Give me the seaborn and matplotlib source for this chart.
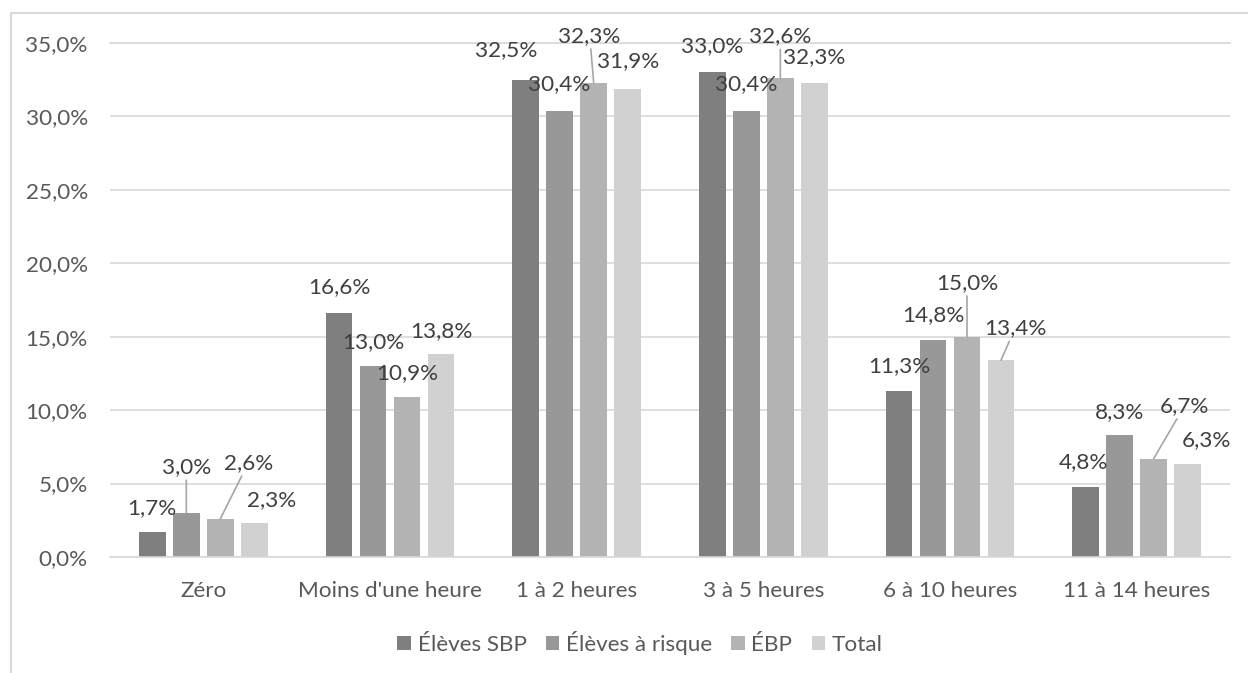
import matplotlib
matplotlib.use("Agg")
import matplotlib.pyplot as plt
from matplotlib.lines import Line2D
from matplotlib.patches import Rectangle
from matplotlib.ticker import FuncFormatter, MultipleLocator
import pandas as pd
import seaborn as sns

# --- data -------------------------------------------------------------
categories = ["Zéro", "Moins d'une heure", "1 à 2 heures", "3 à 5 heures",
              "6 à 10 heures", "11 à 14 heures"]
series = ["Élèves SBP", "Élèves à risque", "ÉBP", "Total"]
eleves_sbp = [1.7, 16.6, 32.5, 33.0, 11.3, 4.8]
eleves_risque = [3.0, 13.0, 30.4, 30.4, 14.8, 8.3]
ebp = [2.6, 10.9, 32.3, 32.6, 15.0, 6.7]
total = [2.3, 13.8, 31.9, 32.3, 13.4, 6.3]

# --- styling ----------------------------------------------------------
colors = ["#7F7F7F", "#989898", "#B3B3B3", "#D1D1D1"]
grid_color = "#D9D9D9"
text_color = "#595959"
label_color = "#404040"
leader_color = "#A6A6A6"
font_size = 16.2

# label placement in pixels relative to the top centre of each bar
# (series index, category index) -> (dx, dy); others use the default
default_offset = (0, 24)
label_offsets = {
    (1, 0): (0, 46), (2, 0): (28, 56), (3, 0): (17, 23),
    (0, 1): (0, 26), (3, 1): (0, 23),
    (0, 2): (-19, 30), (1, 2): (0, 26), (2, 2): (-4, 47), (3, 2): (0, 27),
    (0, 3): (0, 26), (1, 3): (0, 26), (2, 3): (0, 42), (3, 3): (0, 26),
    (0, 4): (0, 25), (1, 4): (0, 25), (2, 4): (0, 54), (3, 4): (14, 32),
    (0, 5): (-2, 24), (1, 5): (0, 23), (2, 5): (31, 53), (3, 5): (19, 24),
}
leader_lines = {(1, 0), (2, 0), (2, 2), (2, 3), (2, 4), (3, 4), (2, 5)}

sns.set_style("white")
plt.rcParams["font.family"] = ["Lato", "DejaVu Sans"]

df = pd.DataFrame({
    "categorie": categories * len(series),
    "groupe": [s for s in series for _ in categories],
    "valeur": eleves_sbp + eleves_risque + ebp + total,
})

fig = plt.figure(figsize=(12.48, 6.73), dpi=100)
ax = fig.add_axes([110 / 1248, 1 - 557 / 673, 1120 / 1248, 514 / 673])

sns.barplot(data=df, x="categorie", y="valeur", hue="groupe",
            order=categories, hue_order=series, palette=colors,
            width=0.729, gap=0.214, errorbar=None, saturation=1,
            linewidth=0, ax=ax, legend=False)

ax.set_ylim(0, 35)
ax.set_xlim(-0.5, len(categories) - 0.5)
ax.yaxis.set_major_locator(MultipleLocator(5))
ax.yaxis.set_major_formatter(
    FuncFormatter(lambda v, _: f"{v:.1f}".replace(".", ",") + "%"))
ax.set_xlabel("")
ax.set_ylabel("")
ax.set_axisbelow(True)
ax.grid(axis="y", color=grid_color, linewidth=1.2)
ax.grid(axis="x", visible=False)
for side in ("left", "right"):
    ax.spines[side].set_visible(False)
for side in ("top", "bottom"):
    ax.spines[side].set_color(grid_color)
    ax.spines[side].set_linewidth(1.2)
ax.tick_params(axis="both", length=0, labelsize=font_size, labelcolor=text_color)
ax.tick_params(axis="x", pad=17)
ax.tick_params(axis="y", pad=16)

# value labels
for si, container in enumerate(ax.containers):
    for ci, bar in enumerate(container):
        value = bar.get_height()
        x = bar.get_x() + bar.get_width() / 2
        dx, dy = label_offsets.get((si, ci), default_offset)
        arrow = None
        if (si, ci) in leader_lines:
            arrow = dict(arrowstyle="-", color=leader_color, lw=1.2,
                         shrinkA=0, shrinkB=0)
        ax.annotate(f"{value:.1f}".replace(".", ",") + "%",
                    xy=(x, value), xytext=(dx, dy),
                    textcoords="offset pixels", ha="center", va="center",
                    fontsize=font_size, color=label_color, arrowprops=arrow,
                    annotation_clip=False)

# legend
handles = [Rectangle((0, 0), 1, 1, facecolor=c, edgecolor="none") for c in colors]
fig.legend(handles, series, loc="center", bbox_to_anchor=(640 / 1248, 1 - 643 / 673),
           ncol=4, frameon=False, fontsize=font_size, labelcolor=text_color,
           handlelength=0.6, handleheight=0.6, handletextpad=0.3,
           columnspacing=0.85)

# chart frame
fig.add_artist(Line2D([11 / 1248, 1], [1 - 13 / 673] * 2, transform=fig.transFigure,
                      color=grid_color, linewidth=1.5))
fig.add_artist(Line2D([11 / 1248] * 2, [0, 1 - 13 / 673], transform=fig.transFigure,
                      color=grid_color, linewidth=1.5))

fig.savefig("out.png", dpi=100)
